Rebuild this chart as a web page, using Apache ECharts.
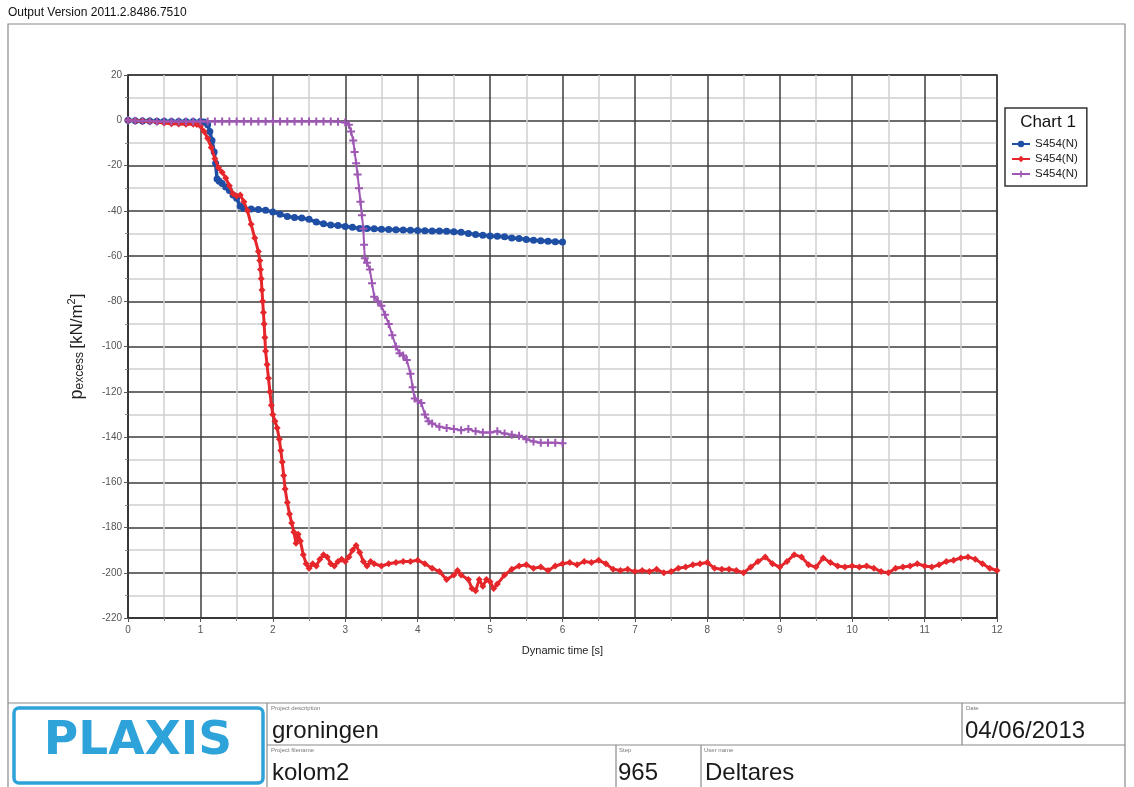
<!DOCTYPE html>
<html><head><meta charset="utf-8">
<script src="https://cdn.jsdelivr.net/npm/echarts@6/dist/echarts.min.js"></script>
<style>html,body{margin:0;padding:0;background:#fff}#c{width:1134px;height:787px}</style>
</head><body><div id="c"></div>
<script>
// ---- data ----
const seriesNames = ['S454(N)', 'S454(N)', 'S454(N)'];
const xTicks = [0,1,2,3,4,5,6,7,8,9,10,11,12];
const yTicks = [20,0,-20,-40,-60,-80,-100,-120,-140,-160,-180,-200,-220];

const blueT = [0,0.1,0.2,0.3,0.4,0.5,0.6,0.7,0.8,0.9,1.0,1.05,1.1,1.13,1.16,1.19,1.21,1.23,1.26,1.3,1.35,1.4,1.45,1.5,1.55,1.6,1.7,1.8,1.9,2.0,2.1,2.2,2.3,2.4,2.5,2.6,2.7,2.8,2.9,3.0,3.1,3.2,3.3,3.4,3.5,3.6,3.7,3.8,3.9,4.0,4.1,4.2,4.3,4.4,4.5,4.6,4.7,4.8,4.9,5.0,5.1,5.2,5.3,5.4,5.5,5.6,5.7,5.8,5.9,6.0];
const blueV = [0,-0.2,-0.3,-0.3,-0.4,-0.4,-0.5,-0.5,-0.5,-0.5,-0.6,-0.8,-2,-5,-9,-14,-19,-26,-27,-28,-29.5,-31,-33,-34.5,-38,-39,-39.2,-39.5,-39.8,-40.5,-41.5,-42.5,-43,-43.2,-43.8,-45,-45.8,-46.3,-46.5,-47,-47.3,-47.8,-47.9,-48,-48.2,-48.3,-48.4,-48.5,-48.6,-48.7,-48.8,-48.9,-49,-49.1,-49.3,-49.5,-50,-50.5,-50.8,-51.2,-51.3,-51.5,-52,-52.3,-52.7,-53,-53.3,-53.5,-53.7,-53.8];

const redT = [0,0.1,0.2,0.3,0.4,0.5,0.6,0.7,0.8,0.9,0.95,1.0,1.05,1.1,1.15,1.2,1.25,1.3,1.35,1.4,1.45,1.5,1.55,1.6,1.65,1.7,1.75,1.8,1.82,1.83,1.84,1.85,1.86,1.87,1.88,1.89,1.9,1.92,1.94,1.96,1.98,2.0,2.03,2.06,2.09,2.11,2.13,2.15,2.17,2.2,2.23,2.26,2.29,2.32,2.35,2.38,2.42,2.46,2.5,2.55,2.6,2.65,2.7,2.75,2.8,2.85,2.9,2.95,3.0,3.05,3.1,3.15,3.2,3.25,3.3,3.35,3.4,3.5,3.6,3.7,3.8,3.9,4.0,4.1,4.2,4.3,4.4,4.5,4.55,4.6,4.7,4.75,4.8,4.85,4.9,4.95,5.0,5.05,5.1,5.2,5.3,5.4,5.5,5.6,5.7,5.8,5.9,6.0,6.1,6.2,6.3,6.4,6.5,6.6,6.7,6.8,6.9,7.0,7.1,7.2,7.3,7.4,7.5,7.6,7.7,7.8,7.9,8.0,8.1,8.2,8.3,8.4,8.5,8.6,8.7,8.8,8.9,9.0,9.1,9.2,9.3,9.4,9.5,9.6,9.7,9.8,9.9,10.0,10.1,10.2,10.3,10.4,10.5,10.6,10.7,10.8,10.9,11.0,11.1,11.2,11.3,11.4,11.5,11.6,11.7,11.8,11.9,12.0];
const redV = [0,-0.2,-0.3,-0.5,-0.8,-1.2,-1.5,-1.7,-1.8,-1.8,-1.9,-2.5,-5,-8,-12,-17,-21,-23,-25.5,-29,-32.5,-33.5,-33,-36,-40,-46,-52,-58,-62,-66,-70,-75,-80,-85,-90,-96,-102,-108,-114,-120,-126,-130,-133,-136,-141,-146,-151,-157,-163,-169,-174,-178,-182,-187,-183,-186,-192,-196,-198,-196,-197,-194,-192,-193,-196,-197,-195,-194,-195,-193,-190,-188,-191,-195,-197,-195,-196,-197,-196,-195.5,-195,-195,-194.5,-196,-198,-199.5,-203,-201,-199,-201,-203,-207,-208,-203,-206,-203,-204,-207,-205,-201,-198.5,-197,-196.5,-198,-197.5,-199,-197,-196,-195.5,-196.5,-195,-195.5,-194.5,-196,-198.5,-199,-198.5,-199.5,-199,-199.5,-198.5,-200,-199.5,-198,-197.5,-196.5,-196,-195.5,-198,-198.5,-198.5,-199,-200,-197.5,-195,-193,-196,-197.5,-195,-192,-193,-196.5,-197.5,-193.5,-195.5,-197,-197.5,-197,-197.5,-197,-198,-199.5,-200,-198,-197.5,-197,-196,-197,-197.5,-196.5,-195,-194.5,-193.5,-193,-194,-196,-198,-199];

const purpleT = [0,0.1,0.2,0.3,0.4,0.5,0.6,0.7,0.8,0.9,1.0,1.1,1.2,1.3,1.4,1.5,1.6,1.7,1.8,1.9,2.0,2.1,2.2,2.3,2.4,2.5,2.6,2.7,2.8,2.9,3.0,3.05,3.08,3.11,3.13,3.15,3.17,3.19,3.21,3.23,3.25,3.26,3.27,3.3,3.34,3.37,3.4,3.45,3.5,3.55,3.6,3.65,3.7,3.75,3.8,3.85,3.9,3.93,3.96,4.0,4.05,4.1,4.15,4.2,4.3,4.4,4.5,4.6,4.7,4.8,4.9,5.0,5.1,5.2,5.3,5.4,5.5,5.6,5.7,5.8,5.9,6.0];
const purpleV = [0,-0.2,-0.3,-0.4,-0.5,-0.5,-0.6,-0.6,-0.6,-0.6,-0.6,-0.6,-0.6,-0.6,-0.6,-0.6,-0.6,-0.6,-0.6,-0.6,-0.6,-0.6,-0.6,-0.6,-0.6,-0.6,-0.6,-0.6,-0.6,-0.7,-1,-2,-5,-9,-14,-19,-24,-30,-36,-42,-48,-55,-61,-63,-66,-72,-78,-80,-82,-86,-90,-95,-100,-103,-104,-106,-112,-118,-123,-124,-125,-130,-133,-134,-135.5,-136,-136.5,-137,-136.5,-137.5,-138,-138,-137.5,-138.5,-139,-139.5,-141,-142,-142.5,-142.5,-142.5,-142.8];

const zip = (t, v) => t.map((x, i) => [x, v[i]]);
const FONT = '"Liberation Sans", Arial, sans-serif';
const colors = ['#1f4ea5', '#e5262b', '#9e58b4'];

const chart = echarts.init(document.getElementById('c'), null, {renderer: 'canvas'});

const lineG = (x1, y1, x2, y2, w) => ({type: 'line', silent: true, shape: {x1, y1, x2, y2}, style: {stroke: '#8a8a8a', lineWidth: w || 1.2}});
const txt = (x, y, text, size, color, extra) => Object.assign({type: 'text', silent: true, style: Object.assign({x, y, text, font: size + 'px ' + FONT, fill: color || '#111', textAlign: 'left', textVerticalAlign: 'middle'}, extra || {})});

chart.setOption({
  animation: false,
  backgroundColor: '#fff',
  color: colors,
  grid: {left: 128, right: 137, top: 75, bottom: 169, show: true, borderColor: '#333', borderWidth: 1.5, backgroundColor: 'transparent'},
  legend: {
    orient: 'vertical', left: 1005, top: 108,
    data: ['S454(N)#1', 'S454(N)#2', 'S454(N)#3'],
    formatter: n => n.split('#')[0],
    borderColor: '#333', borderWidth: 1.5,
    padding: [30, 9, 6, 6], itemGap: 3, itemWidth: 18, itemHeight: 8,
    textStyle: {fontFamily: FONT, fontSize: 11.5, color: '#222'},
    selectedMode: false
  },
  xAxis: {
    type: 'value', min: 0, max: 12, interval: 1,
    name: 'Dynamic time [s]', nameLocation: 'middle', nameGap: 27,
    nameTextStyle: {fontFamily: FONT, fontSize: 11, color: '#222'},
    axisLine: {show: true, onZero: false, lineStyle: {color: '#333', width: 1.5}},
    axisTick: {show: true, length: 4, lineStyle: {color: '#555'}},
    minorTick: {show: true, splitNumber: 2, length: 3, lineStyle: {color: '#888'}},
    axisLabel: {fontFamily: FONT, fontSize: 10, color: '#555', margin: 7, formatter: v => xTicks.includes(v) ? String(v) : ''},
    splitLine: {show: true, lineStyle: {color: '#3c3c3c', width: 1.5}},
    minorSplitLine: {show: true, lineStyle: {color: '#cfcfcf', width: 1.5}}
  },
  yAxis: {
    type: 'value', min: -220, max: 20, interval: 20,
    name: '{p|p}{sub|excess} {u|[kN/m}{sup|2}{u|]}', nameLocation: 'middle', nameGap: 42, nameRotate: 90,
    nameTextStyle: {fontFamily: FONT, color: '#222', rich: {
      p: {fontFamily: FONT, fontSize: 18, color: '#222', verticalAlign: 'bottom', lineHeight: 20},
      sub: {fontFamily: FONT, fontSize: 12, color: '#222', verticalAlign: 'bottom', lineHeight: 14},
      u: {fontFamily: FONT, fontSize: 17, color: '#222', verticalAlign: 'bottom', lineHeight: 20},
      sup: {fontFamily: FONT, fontSize: 11, color: '#222', verticalAlign: 'top', lineHeight: 14}
    }},
    axisLine: {show: true, onZero: false, lineStyle: {color: '#333', width: 1.5}},
    axisTick: {show: true, length: 4, lineStyle: {color: '#555'}},
    minorTick: {show: true, splitNumber: 2, length: 3, lineStyle: {color: '#888'}},
    axisLabel: {fontFamily: FONT, fontSize: 10, color: '#555', margin: 6, formatter: v => yTicks.includes(v) ? String(v) : ''},
    splitLine: {show: true, lineStyle: {color: '#3c3c3c', width: 1.5}},
    minorSplitLine: {show: true, lineStyle: {color: '#cfcfcf', width: 1.5}}
  },
  series: [
    {name: 'S454(N)#1', type: 'line', data: zip(blueT, blueV), symbol: 'circle', symbolSize: 7,
     lineStyle: {width: 3.5, color: colors[0]}, itemStyle: {color: colors[0]}, z: 2},
    {name: 'S454(N)#2', type: 'line', data: zip(redT, redV), symbol: 'diamond', symbolSize: 7,
     lineStyle: {width: 3, color: colors[1]}, itemStyle: {color: colors[1]}, z: 3},
    {name: 'S454(N)#3', type: 'line', data: zip(purpleT, purpleV), symbol: 'path://M3,0H5V3H8V5H5V8H3V5H0V3H3Z', symbolSize: 8,
     lineStyle: {width: 2, color: colors[2]}, itemStyle: {color: colors[2]}, z: 4}
  ],
  graphic: [
    txt(8, 13, 'Output Version 2011.2.8486.7510', 12, '#111'),
    {type: 'rect', silent: true, shape: {x: 8, y: 24, width: 1117, height: 770}, style: {fill: 'none', stroke: '#8a8a8a', lineWidth: 1.2}},
    txt(1048, 122, 'Chart 1', 17, '#111', {textAlign: 'center'}),
    lineG(8, 703, 1125, 703),
    lineG(267, 703, 267, 787),
    lineG(267, 745, 1125, 745),
    lineG(962, 703, 962, 745),
    lineG(616, 745, 616, 787),
    lineG(701, 745, 701, 787),
    {type: 'rect', silent: true, shape: {x: 14, y: 708, width: 249, height: 75, r: 5}, style: {fill: '#fff', stroke: '#2ea3d9', lineWidth: 3.5}},
    {type: 'text', silent: true, style: {x: 138, y: 742, text: 'PLAXIS', font: 'bold 47px "DejaVu Sans", sans-serif', fill: '#2ea3d9', textAlign: 'center', textVerticalAlign: 'middle'}},
    txt(271, 708, 'Project description', 6, '#777'),
    txt(271, 750, 'Project filename', 6, '#777'),
    txt(966, 708, 'Date', 6, '#777'),
    txt(619, 750, 'Step', 6, '#777'),
    txt(704, 750, 'User name', 6, '#777'),
    txt(272, 731, 'groningen', 24, '#1a1a1a'),
    txt(272, 773, 'kolom2', 24, '#1a1a1a'),
    txt(965, 731, '04/06/2013', 24, '#1a1a1a'),
    txt(618, 773, '965', 24, '#1a1a1a'),
    txt(705, 773, 'Deltares', 24, '#1a1a1a')
  ]
});
</script>
</body></html>
